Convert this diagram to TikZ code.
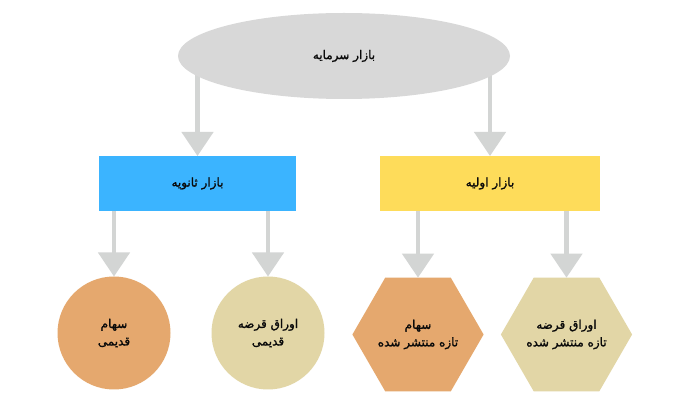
\documentclass[tikz,border=0pt]{standalone}
\usepackage{fontspec}
\TeXXeTstate=1
\newfontfamily\arabicfont[Script=Arabic,FakeBold=1.4]{DejaVu Sans}
\usetikzlibrary{shapes.geometric,arrows.meta,backgrounds}
\definecolor{arrgray}{RGB}{211,213,212}
\definecolor{ellgray}{RGB}{216,216,216}
\definecolor{bluebox}{RGB}{59,180,255}
\definecolor{yellowbox}{RGB}{254,220,90}
\definecolor{orangefill}{RGB}{229,168,110}
\definecolor{tanfill}{RGB}{226,214,166}
\definecolor{txt}{RGB}{10,10,10}
\tikzset{
  arr/.style={draw=arrgray, line width=4.5pt, -{Triangle[width=31pt,length=24pt]}, arrgray},
  lbl/.style={font=\arabicfont\fontsize{12}{17.5}\selectfont, text=txt, align=center},
  boxnode/.style={lbl, rectangle, minimum width=197pt, minimum height=55pt, inner sep=0pt, outer sep=0pt},
  circnode/.style={lbl, circle, minimum size=113pt, inner sep=0pt, outer sep=0pt},
  hexnode/.style={lbl, regular polygon, regular polygon sides=6, minimum size=129pt, inner sep=0pt, outer sep=0pt},
}
\begin{document}
\begin{tikzpicture}[x=1pt,y=-1pt]
\useasboundingbox (0,0) rectangle (678,403);
\node[lbl, ellipse, fill=ellgray, minimum width=332pt, minimum height=86pt, inner sep=0pt] (top) at (344,56) {\beginR بازار سرمایه\endR};
\node[boxnode, fill=bluebox, minimum width=197pt] (sec) at (197.5,183.5) {\beginR بازار ثانویه\endR};
\node[boxnode, fill=yellowbox, minimum width=220pt] (pri) at (490,183.5) {\beginR بازار اولیه\endR};
\node[circnode, fill=orangefill] (c1) at (114,333) {\beginR سهام\endR\\\beginR قدیمی\endR};
\node[circnode, fill=tanfill] (c2) at (268,333) {\beginR اوراق قرضه\endR\\\beginR قدیمی\endR};
\node[hexnode, fill=orangefill] (h1) at (418,334.5) {\beginR سهام\endR\\\beginR تازه منتشر شده\endR};
\node[hexnode, fill=tanfill] (h2) at (566.5,334.5) {\beginR اوراق قرضه\endR\\\beginR تازه منتشر شده\endR};
\begin{scope}[on background layer]
\fill[white] (0,0) rectangle (678,403);
\draw[arr] (top.center -| sec.north) -- (sec.north);
\draw[arr] (top.center -| pri.north) -- (pri.north);
\end{scope}
\draw[arr] (sec.south -| c1.north) -- (c1.north);
\draw[arr] (sec.south -| c2.north) -- (c2.north);
\draw[arr] (pri.south -| h1.north) -- (h1.north);
\draw[arr] (pri.south -| h2.north) -- (h2.north);
\end{tikzpicture}
\end{document}
